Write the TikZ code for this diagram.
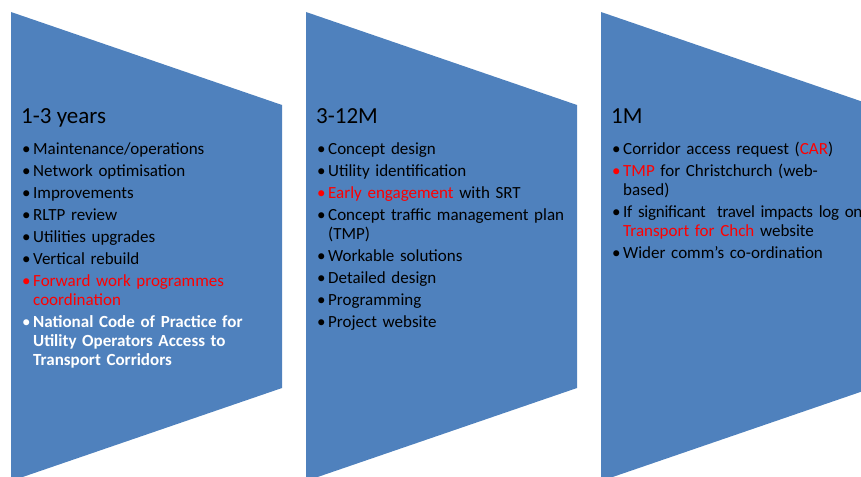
\documentclass[tikz,border=0pt]{standalone}
\usepackage{fontspec}
\setmainfont{Carlito}
\newfontfamily\tightfont[LetterSpace=-1.5]{Carlito}
\usepackage{xcolor}
\definecolor{blockblue}{RGB}{79,129,189}
\definecolor{hired}{RGB}{255,0,0}
% one bullet line, wrapped lines hang under the text
\newcommand{\itm}[2][black]{\setlength{\parskip}{3pt}\hangindent=11pt\hangafter=1\noindent\makebox[11pt][l]{\textcolor{#1}{\textbullet}}{#2}\par}

\begin{document}
\begin{tikzpicture}[x=1pt,y=-1pt,
    phase/.style={fill=blockblue},
    ttl/.style={anchor=base west,inner sep=0pt,font=\fontsize{23}{26}\selectfont},
    lst/.style={anchor=base west,inner sep=0pt,text width=320pt,font=\fontsize{17}{19}\selectfont}]
    \clip (0,0) rectangle (861,476);
    \foreach \l in {11,306,601}
        \fill[phase] (\l,12) -- (\l+271,105) -- (\l+271,388) -- (\l,481) -- cycle;
    % 1-3 years
    \node[ttl] (t1) at (21,124) {1-3 years};
    \node[lst] (l1) at (22,154) {\raggedright
        \itm{Maintenance/operations}
        \itm{Network optimisation}
        \itm{Improvements}
        \itm{RLTP review}
        \itm{Utilities upgrades}
        \itm{Vertical rebuild}
        \itm[hired]{\color{hired}Forward work programmes\newline coordination}
        \itm[white]{\color{white}\bfseries National Code of Practice for\newline Utility Operators Access to\newline Transport Corridors}};
    % 3-12M
    \node[ttl] (t2) at (316,124) {3-12M};
    \node[lst] (l2) at (317,154) {\raggedright
        \itm{Concept design}
        \itm{Utility identification}
        \itm[hired]{\textcolor{hired}{Early engagement} with SRT}
        \itm{Concept traffic management plan\newline (TMP)}
        \itm{Workable solutions}
        \itm{Detailed design}
        \itm{Programming}
        \itm{Project website}};
    % 1M
    \node[ttl] (t3) at (611,124) {1M};
    \node[lst] (l3) at (612,154) {\raggedright
        \itm{Corridor access request (\textcolor{hired}{CAR})}
        \itm[hired]{\textcolor{hired}{TMP} for Christchurch (web-\newline based)}
        \itm{{\tightfont If significant~ travel impacts log on}\newline \textcolor{hired}{Transport for Chch} website}
        \itm{Wider comm’s co-ordination}};
\end{tikzpicture}
\end{document}
